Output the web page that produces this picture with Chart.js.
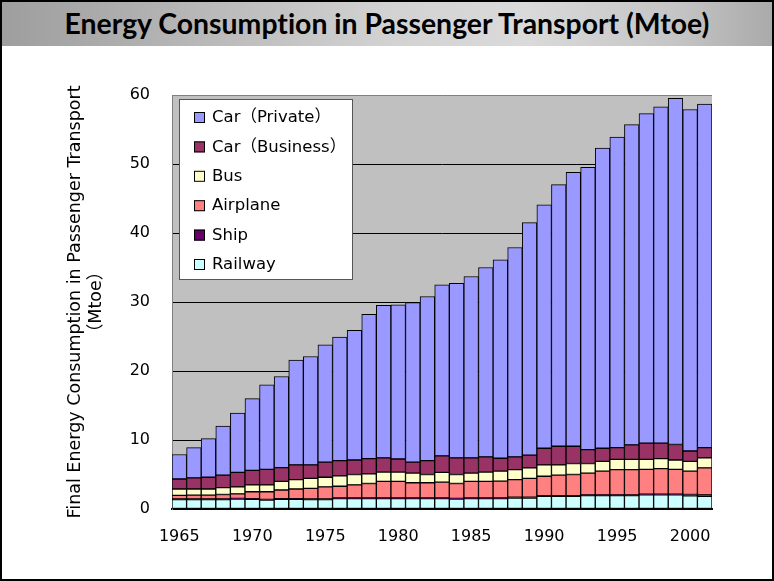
<!DOCTYPE html>
<html>
<head>
<meta charset="utf-8">
<script src="https://cdn.jsdelivr.net/npm/chart.js@4/dist/chart.umd.min.js"></script>
<style>
html, body { margin: 0; padding: 0; background: #fff; }
#frame { position: absolute; left: 0; top: 0; width: 770px; height: 577px; border: 2px solid #000; }
#banner { position: absolute; left: 0; top: 0; width: 770px; height: 44px;
  background: linear-gradient(90deg, #9e9e9e 0%, #b4b4b4 22%, #d2d2d2 50%, #dadada 68%, #c4c4c4 88%, #aaaaaa 100%); }
#title { position: absolute; left: 0; top: 4px; width: 770px; text-align: center; white-space: nowrap;
  font: bold 28px Lato, sans-serif; color: #000; font-variant-ligatures: none; }
#title span { display: inline-block; transform-origin: center; }
#chart { position: absolute; left: 0; top: 0; }
</style>
</head>
<body>
<div id="frame">
  <div id="banner"><div id="title"><span id="titleText">Energy Consumption in Passenger Transport (Mtoe)</span></div></div>
</div>
<canvas id="chart" width="774" height="581"></canvas>
<script>
const years = ['1965','1966','1967','1968','1969','1970','1971','1972','1973','1974','1975','1976','1977','1978','1979',
  '1980','1981','1982','1983','1984','1985','1986','1987','1988','1989','1990','1991','1992','1993','1994',
  '1995','1996','1997','1998','1999','2000','2001']

const railway = [1.35,1.35,1.35,1.35,1.45,1.4,1.3,1.4,1.4,1.35,1.35,1.5,1.5,1.5,1.5,1.5,1.5,1.5,1.5,1.45,
  1.5,1.5,1.5,1.6,1.6,1.85,1.85,1.85,1.95,1.95,1.95,1.95,2.05,2.05,2.05,1.9,1.85]
const ship = [0.1,0.1,0.1,0.1,0.1,0.1,0.1,0.1,0.1,0.1,0.1,0.1,0.1,0.1,0.1,0.1,0.1,0.1,0.1,0.1,
  0.1,0.1,0.1,0.1,0.1,0.1,0.1,0.1,0.1,0.1,0.1,0.1,0.1,0.1,0.1,0.2,0.2]
const airplane = [0.53,0.55,0.55,0.65,0.65,1.0,1.1,1.25,1.4,1.55,1.75,1.7,1.9,2.1,2.4,2.4,2.2,2.2,2.3,2.15,
  2.4,2.4,2.45,2.55,2.75,2.8,2.95,3.05,3.15,3.45,3.65,3.65,3.6,3.7,3.6,3.4,3.9]
const bus = [0.92,0.9,0.9,1.0,1.0,1.0,1.0,1.25,1.35,1.45,1.4,1.5,1.5,1.4,1.35,1.35,1.4,1.2,1.4,1.3,
  1.2,1.35,1.45,1.45,1.5,1.65,1.5,1.6,1.4,1.4,1.5,1.5,1.45,1.45,1.35,1.4,1.45]
const carBusiness = [1.45,1.6,1.7,1.8,2.1,2.1,2.25,2.0,2.15,1.95,2.2,2.2,2.1,2.2,2.05,1.9,1.6,2.0,2.4,2.4,
  2.2,2.2,1.85,1.85,1.85,2.4,2.7,2.5,2.0,1.9,1.7,2.1,2.35,2.25,2.25,1.5,1.5]
const carPrivate = [3.55,4.4,5.6,7.1,8.6,10.4,12.25,13.2,15.2,15.7,17.0,17.9,18.8,20.9,22.1,22.35,23.1,23.8,24.8,25.3,
  26.3,27.45,28.75,30.35,33.7,35.3,37.9,39.7,40.9,43.5,45.0,46.4,47.75,48.75,50.15,49.5,49.8]

const yTicks = [0, 10, 20, 30, 40, 50, 60]

// squeeze the title to the width it has in the picture
const tt = document.getElementById('titleText')
tt.style.transform = 'scaleX(' + (645 / tt.offsetWidth) + ')'

const textFont = '"DejaVu Sans", "Noto Sans CJK JP", sans-serif'

const plotBack = {
  id: 'plotBack',
  beforeDraw(chart) {
    const a = chart.chartArea
    const ctx = chart.ctx
    ctx.save()
    ctx.fillStyle = '#c0c0c0'
    ctx.fillRect(a.left, a.top, a.right - a.left, a.bottom - a.top)
    ctx.restore()
  }
}

const legendBox = {
  id: 'legendBox',
  afterDraw(chart) {
    const ctx = chart.ctx
    const a = chart.chartArea
    const x = a.left + 7, y = a.top + 4, w = 173, h = 180
    ctx.save()
    ctx.fillStyle = '#fff'
    ctx.fillRect(x, y, w, h)
    ctx.strokeStyle = '#555'
    ctx.lineWidth = 1
    ctx.strokeRect(x + 0.5, y + 0.5, w, h)
    ctx.font = '16.5px ' + textFont
    ctx.textBaseline = 'middle'
    const sets = chart.data.datasets.slice().reverse()
    sets.forEach(function (ds, i) {
      const cy = y + 18 + i * 29.4
      ctx.fillStyle = ds.backgroundColor
      ctx.fillRect(x + 15, cy - 5, 11, 11)
      ctx.strokeStyle = '#000'
      ctx.strokeRect(x + 15.5, cy - 4.5, 10, 10)
      ctx.fillStyle = '#000'
      ctx.fillText(ds.label, x + 33, cy + 1)
    })
    ctx.restore()
  }
}

function bars(label, data, color) {
  return {
    label: label,
    data: data,
    backgroundColor: color,
    borderColor: '#000',
    borderWidth: 1,
    borderSkipped: false,
    barPercentage: 1,
    categoryPercentage: 1
  }
}

const data = {
  labels: years,
  datasets: [
    bars('Railway', railway, '#ccffff'),
    bars('Ship', ship, '#660066'),
    bars('Airplane', airplane, '#ff8080'),
    bars('Bus', bus, '#ffffcc'),
    bars('Car（Business）', carBusiness, '#993366'),
    bars('Car（Private）', carPrivate, '#9999ff')
  ]
}

const config = {
  type: 'bar',
  data: data,
  options: {
    responsive: false,
    animation: false,
    layout: { padding: { left: 0, top: 95, right: 62, bottom: 0 } },
    plugins: {
      legend: { display: false },
      title: { display: false },
      tooltip: { enabled: false }
    },
    scales: {
      x: {
        stacked: true,
        grid: { display: false },
        border: { display: true, color: '#000', width: 2 },
        ticks: {
          autoSkip: false,
          maxRotation: 0,
          color: '#000',
          padding: 10,
          font: { family: textFont, size: 16 },
          callback: function (v, i) {
            const y = years[i]
            return Number(y) % 5 === 0 ? y : ''
          }
        },
        afterFit: function (s) { s.height = 72 }
      },
      y: {
        stacked: true,
        min: 0,
        max: 60,
        afterBuildTicks: function (s) { s.ticks = yTicks.map(function (v) { return { value: v } }) },
        grid: {
          color: function (c) { return c.tick.value === 60 ? '#808080' : '#000' },
          drawTicks: false
        },
        border: { display: true, color: '#808080' },
        ticks: {
          color: '#000',
          padding: 22,
          font: { family: textFont, size: 16 }
        },
        title: {
          display: true,
          text: ['Final Energy Consumption in Passenger Transport', '（Mtoe）'],
          color: '#000',
          font: { family: textFont, size: 17.5, lineHeight: 1.2 },
          padding: { top: 65, bottom: 0 }
        },
        afterFit: function (s) { s.width = 172 }
      }
    }
  },
  plugins: [plotBack, legendBox]
}

new Chart(document.getElementById('chart'), config)
</script>
</body>
</html>
